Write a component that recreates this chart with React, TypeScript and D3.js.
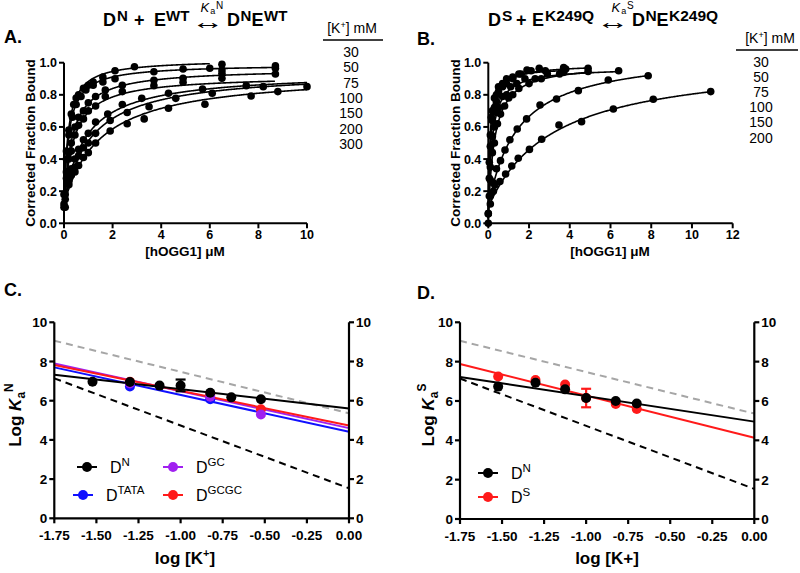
import React from "react";
import * as d3 from "d3";

const FONT = "'Liberation Sans', Arial, Helvetica, sans-serif";

// ---------------- Panel A : D^N + E^WT ----------------
const aKLabels = ["30", "50", "75", "100", "150", "200", "300"];
const aXTicks = [0, 2, 4, 6, 8, 10];
const fracTicks = [0, 0.2, 0.4, 0.6, 0.8, 1.0];

const aX30 = [0, 0.1, 0.2, 0.3, 0.4, 0.5, 0.6, 0.8, 1.0, 1.2, 1.6, 2.1, 2.9];
const aY30 = [0.12, 0.45, 0.58, 0.68, 0.74, 0.78, 0.8, 0.84, 0.86, 0.88, 0.91, 0.95, 0.975];
const aX50 = [0, 0.1, 0.2, 0.35, 0.5, 0.7, 0.9, 1.2, 1.6, 2.1, 3.7, 4.9, 6.0, 6.5, 8.7, 8.7];
const aY50 = [0.1, 0.4, 0.55, 0.66, 0.74, 0.79, 0.83, 0.86, 0.88, 0.9, 0.944, 0.961, 0.965, 0.99, 0.98, 0.965];
const aX75 = [0.1, 0.2, 0.3, 0.45, 0.6, 0.8, 1.0, 1.3, 1.7, 2.4, 3.7, 4.9, 6.5, 6.5, 8.7];
const aY75 = [0.32, 0.44, 0.5, 0.6, 0.66, 0.7, 0.75, 0.79, 0.83, 0.86, 0.89, 0.903, 0.955, 0.934, 0.93];
const aX100 = [0, 0.1, 0.2, 0.3, 0.45, 0.6, 0.8, 1.0, 1.3, 1.7, 2.4, 3.7, 4.9, 6.5];
const aY100 = [0.18, 0.28, 0.4, 0.45, 0.55, 0.61, 0.65, 0.7, 0.73, 0.79, 0.82, 0.857, 0.878, 0.903];
const aX150 = [0.05, 0.15, 0.3, 0.45, 0.6, 0.8, 1.0, 1.3, 1.8, 2.4, 3.2, 4.3, 5.7, 7.5, 10];
const aY150 = [0.18, 0.26, 0.34, 0.4, 0.46, 0.52, 0.56, 0.63, 0.68, 0.74, 0.778, 0.81, 0.836, 0.857, 0.851];
const aX200 = [0.05, 0.2, 0.3, 0.45, 0.6, 0.8, 1.0, 1.3, 1.9, 2.6, 3.5, 4.6, 6.1, 8.2];
const aY200 = [0.15, 0.26, 0.3, 0.35, 0.42, 0.47, 0.5, 0.56, 0.64, 0.69, 0.726, 0.778, 0.81, 0.851];
const aX300 = [0.05, 0.2, 0.3, 0.45, 0.6, 0.8, 1.0, 1.3, 1.9, 2.6, 3.3, 4.3, 5.8, 7.7, 8.8];
const aY300 = [0.1, 0.24, 0.3, 0.32, 0.36, 0.41, 0.44, 0.5, 0.575, 0.62, 0.65, 0.716, 0.741, 0.793, 0.82];

// hyperbolic fit parameters (30 ... 300 mM)
const aFitBase = [0.12, 0.12, 0.12, 0.12, 0.12, 0.12, 0.12];
const aFitMax = [0.9, 0.87, 0.845, 0.8, 0.823, 0.83, 0.82];
const aFitKd = [0.18, 0.2, 0.35, 0.4, 0.88, 1.12, 1.51];
const aFitEnd = [6.0, 8.68, 8.68, 8.68, 10, 10, 10];

// ---------------- Panel B : D^S + E^K249Q ----------------
const bKLabels = ["30", "50", "75", "100", "150", "200"];
const bXTicks = [0, 2, 4, 6, 8, 10, 12];

const bX30 = [0, 0.05, 0.1, 0.15, 0.2, 0.3, 0.4, 0.5, 0.7, 0.9, 1.2, 1.5, 1.9, 2.5, 3.8];
const bY30 = [0.06, 0.38, 0.55, 0.66, 0.7, 0.78, 0.8, 0.85, 0.87, 0.9, 0.91, 0.93, 0.955, 0.965, 0.96];
const bX50 = [0.05, 0.1, 0.15, 0.2, 0.3, 0.4, 0.5, 0.7, 0.9, 1.2, 1.6, 2.1, 2.8, 3.7, 4.9];
const bY50 = [0.28, 0.48, 0.55, 0.64, 0.72, 0.76, 0.82, 0.85, 0.87, 0.9, 0.93, 0.95, 0.95, 0.97, 0.965];
const bX75 = [0, 0.1, 0.2, 0.3, 0.4, 0.5, 0.7, 0.9, 1.1, 1.4, 1.8, 2.3, 2.9, 3.7, 6.4];
const bY75 = [0.0, 0.35, 0.54, 0.6, 0.69, 0.72, 0.79, 0.8, 0.85, 0.87, 0.9, 0.9, 0.93, 0.94, 0.95];
const bX100 = [0.05, 0.1, 0.2, 0.3, 0.45, 0.6, 0.8, 1.0, 1.2, 1.5, 2.0, 2.6, 3.5, 4.9];
const bY100 = [0.17, 0.27, 0.44, 0.5, 0.62, 0.68, 0.73, 0.78, 0.8, 0.84, 0.87, 0.9, 0.93, 0.945];
const bX150 = [0, 0.1, 0.25, 0.4, 0.6, 0.82, 1.06, 1.42, 1.88, 2.54, 3.35, 4.42, 5.89, 7.85];
const bY150 = [0.06, 0.17, 0.25, 0.34, 0.39, 0.456, 0.52, 0.587, 0.65, 0.737, 0.774, 0.826, 0.892, 0.919];
const bX200 = [0.1, 0.25, 0.33, 0.57, 0.85, 1.15, 1.47, 2.02, 2.62, 3.47, 4.58, 6.14, 8.1, 10.92];
const bY200 = [0.12, 0.2, 0.24, 0.26, 0.307, 0.357, 0.405, 0.46, 0.523, 0.612, 0.633, 0.712, 0.772, 0.82];

const bFitBase = [0.04, 0.03, 0.03, 0.03, 0.1, 0.1];
const bFitMax = [0.93, 0.96, 0.94, 0.966, 0.969, 0.93];
const bFitKd = [0.08, 0.12, 0.18, 0.3, 1.43, 3.2];
const bFitEnd = [3.8, 4.9, 6.4, 4.9, 7.85, 10.92];

// ---------------- Panels C & D : Log Ka vs log [K+] ----------------
const logXTicks = [-1.75, -1.5, -1.25, -1.0, -0.75, -0.5, -0.25, 0];
const logYTicks = [0, 2, 4, 6, 8, 10];

const cNX = [-1.523, -1.301, -1.125, -1.0, -0.824, -0.699, -0.523];
const cNY = [6.97, 6.95, 6.77, 6.78, 6.41, 6.17, 6.07];
const cNErr = [0, 0, 0, 0.3, 0, 0, 0];
const cTataX = [-1.301, -0.824];
const cTataY = [6.72, 6.07];
const cGcX = [-1.301, -0.824, -0.523];
const cGcY = [6.88, 6.2, 5.3];
const cGcgcX = [-1.301, -0.824, -0.523];
const cGcgcY = [6.97, 6.3, 5.56];
// straight-line fits: value at log[K+] = -1.75 and at 0
const cFitLeft = [7.33, 7.7, 7.9, 7.82];
const cFitRight = [5.6, 4.42, 4.6, 4.74];
const refFitLeft = [9.06, 7.14];   // grey dashed, black dashed
const refFitRight = [5.36, 1.53];

const dNX = [-1.523, -1.301, -1.125, -1.0, -0.824, -0.699];
const dNY = [6.73, 6.93, 6.59, 6.15, 6.0, 5.87];
const dSX = [-1.523, -1.301, -1.125, -1.0, -0.824, -0.699];
const dSY = [7.24, 7.07, 6.84, 6.15, 5.85, 5.59];
const dSErr = [0, 0, 0, 0.47, 0, 0];
const dFitLeft = [7.22, 7.88];
const dFitRight = [4.95, 4.13];

const BLUE = "#1010ff";
const RED = "#ff1a1a";
const PURPLE = "#a020f0";
const GREY = "#a6a6a6";

type Series = { x: number[]; y: number[] };
type Fit = { base: number; max: number; kd: number; end: number };

function BindingPanel(props: {
  left: number; right: number; top: number; bottom: number;
  xMax: number; xTicks: number[]; series: Series[]; fits: Fit[];
}) {
  const { left, right, top, bottom, xMax, xTicks, series, fits } = props;
  const x = d3.scaleLinear().domain([0, xMax]).range([left, right]);
  const y = d3.scaleLinear().domain([0, 1]).range([bottom, top]);
  const line = d3.line<[number, number]>().x((d) => x(d[0])).y((d) => y(d[1]));
  return (
    <g>
      {fits.map((f, i) => {
        const pts: [number, number][] = d3.range(0, 401).map((k) => {
          const xx = f.end * Math.pow(k / 400, 2);
          return [xx, f.base + (f.max * xx) / (f.kd + xx)];
        });
        return <path key={"f" + i} d={line(pts) || ""} fill="none" stroke="#000" strokeWidth={1.6} />;
      })}
      {series.map((s, i) =>
        s.x.map((xv, j) => (
          <circle key={"p" + i + "-" + j} cx={x(xv)} cy={y(s.y[j])} r={3.8} fill="#000" />
        ))
      )}
      <line x1={left} y1={bottom} x2={right} y2={bottom} stroke="#000" strokeWidth={2} />
      <line x1={left} y1={bottom} x2={left} y2={top} stroke="#000" strokeWidth={2} />
      {xTicks.map((t) => (
        <g key={"xt" + t}>
          <line x1={x(t)} x2={x(t)} y1={bottom} y2={bottom + 5} stroke="#000" strokeWidth={2} />
          <text x={x(t)} y={bottom + 16} textAnchor="middle" fontSize={12.5} fontWeight="bold">{t}</text>
        </g>
      ))}
      {fracTicks.map((t) => (
        <g key={"yt" + t}>
          <line x1={left - 5} x2={left} y1={y(t)} y2={y(t)} stroke="#000" strokeWidth={2} />
          <text x={left - 7} y={y(t) + 4.5} textAnchor="end" fontSize={12.5} fontWeight="bold">{t.toFixed(1)}</text>
        </g>
      ))}
    </g>
  );
}

type PtSeries = { x: number[]; y: number[]; err?: number[]; color: string };

function LogPanel(props: {
  left: number; right: number; top: number; bottom: number;
  lines: { l: number; r: number; color: string; dash?: string }[];
  points: PtSeries[];
}) {
  const { left, right, top, bottom, lines, points } = props;
  const x = d3.scaleLinear().domain([-1.75, 0]).range([left, right]);
  const y = d3.scaleLinear().domain([0, 10]).range([bottom, top]);
  return (
    <g>
      {lines.map((ln, i) => (
        <line key={"l" + i} x1={x(-1.75)} y1={y(ln.l)} x2={x(0)} y2={y(ln.r)}
          stroke={ln.color} strokeWidth={2} strokeDasharray={ln.dash} />
      ))}
      {points.map((s, i) => (
        <g key={"s" + i}>
          {s.x.map((xv, j) => {
            const e = s.err ? s.err[j] : 0;
            return e > 0 ? (
              <g key={"e" + j}>
                <line x1={x(xv)} x2={x(xv)} y1={y(s.y[j] - e)} y2={y(s.y[j] + e)} stroke={s.color} strokeWidth={2.2} />
                <line x1={x(xv) - 5} x2={x(xv) + 5} y1={y(s.y[j] - e)} y2={y(s.y[j] - e)} stroke={s.color} strokeWidth={2.2} />
                <line x1={x(xv) - 5} x2={x(xv) + 5} y1={y(s.y[j] + e)} y2={y(s.y[j] + e)} stroke={s.color} strokeWidth={2.2} />
              </g>
            ) : null;
          })}
          {s.x.map((xv, j) => (
            <circle key={"c" + j} cx={x(xv)} cy={y(s.y[j])} r={5} fill={s.color} />
          ))}
        </g>
      ))}
      <line x1={left} y1={bottom} x2={right} y2={bottom} stroke="#000" strokeWidth={2.2} />
      <line x1={left} y1={bottom + 1} x2={left} y2={top} stroke="#000" strokeWidth={2.2} />
      <line x1={right} y1={bottom + 1} x2={right} y2={top} stroke="#000" strokeWidth={2.2} />
      {logXTicks.map((t) => (
        <g key={"xt" + t}>
          <line x1={x(t)} x2={x(t)} y1={bottom} y2={bottom + 5} stroke="#000" strokeWidth={2.2} />
          <text x={x(t)} y={bottom + 22} textAnchor="middle" fontSize={13.5} fontWeight="bold">{t.toFixed(2)}</text>
        </g>
      ))}
      {logYTicks.map((t) => (
        <g key={"yt" + t}>
          <line x1={left - 5} x2={left} y1={y(t)} y2={y(t)} stroke="#000" strokeWidth={2.2} />
          <text x={left - 7} y={y(t) + 5} textAnchor="end" fontSize={13.5} fontWeight="bold">{t}</text>
          <line x1={right} x2={right + 5} y1={y(t)} y2={y(t)} stroke="#000" strokeWidth={2.2} />
          <text x={right + 7} y={y(t) + 5} textAnchor="start" fontSize={13.5} fontWeight="bold">{t}</text>
        </g>
      ))}
    </g>
  );
}

function LegendItem(props: { x: number; y: number; color: string; label: string; sup: string }) {
  const { x, y, color, label, sup } = props;
  return (
    <g>
      <line x1={x} x2={x + 20} y1={y} y2={y} stroke={color} strokeWidth={2} />
      <circle cx={x + 10} cy={y} r={5} fill={color} />
      <text x={x + 33} y={y + 6} fontSize={16}>
        {label}
        <tspan dy={-7} fontSize={11.5}>{sup}</tspan>
      </text>
    </g>
  );
}

// Reaction title: left part, arrow with equilibrium constant, right part
function Title(props: {
  parts: { t: string; x: number; sup?: boolean }[];
  arrowX: number; kX: number; kSup: string; supSize: number;
}) {
  const { parts, arrowX, kX, kSup, supSize } = props;
  return (
    <g>
      <text fontSize={18} fontWeight="bold">
        {parts.map((p, i) => (
          <tspan key={i} x={p.x} y={p.sup ? 20.5 : 26} fontSize={p.sup ? supSize : 18}>{p.t}</tspan>
        ))}
      </text>
      <text transform={`translate(${arrowX},28.5) scale(1.55,1)`} textAnchor="middle" fontSize={21} fontWeight="bold">↔</text>
      <text fontSize={13}>
        <tspan x={kX} y={12} fontStyle="italic">K</tspan>
        <tspan x={kX + 9.8} y={14} fontSize={9}>a</tspan>
        <tspan x={kX + 15.5} y={8.5} fontSize={10}>{kSup}</tspan>
      </text>
    </g>
  );
}

export default function App() {
  const aSeries: Series[] = [
    { x: aX30, y: aY30 }, { x: aX50, y: aY50 }, { x: aX75, y: aY75 }, { x: aX100, y: aY100 },
    { x: aX150, y: aY150 }, { x: aX200, y: aY200 }, { x: aX300, y: aY300 },
  ];
  const aFits: Fit[] = aFitKd.map((kd, i) => ({ base: aFitBase[i], max: aFitMax[i], kd, end: aFitEnd[i] }));
  const bSeries: Series[] = [
    { x: bX30, y: bY30 }, { x: bX50, y: bY50 }, { x: bX75, y: bY75 },
    { x: bX100, y: bY100 }, { x: bX150, y: bY150 }, { x: bX200, y: bY200 },
  ];
  const bFits: Fit[] = bFitKd.map((kd, i) => ({ base: bFitBase[i], max: bFitMax[i], kd, end: bFitEnd[i] }));

  const cLines = [
    { l: refFitLeft[0], r: refFitRight[0], color: GREY, dash: "7,5" },
    { l: refFitLeft[1], r: refFitRight[1], color: "#000", dash: "7,5" },
    { l: cFitLeft[1], r: cFitRight[1], color: BLUE },
    { l: cFitLeft[2], r: cFitRight[2], color: PURPLE },
    { l: cFitLeft[3], r: cFitRight[3], color: RED },
    { l: cFitLeft[0], r: cFitRight[0], color: "#000" },
  ];
  const cPoints: PtSeries[] = [
    { x: cTataX, y: cTataY, color: BLUE },
    { x: cGcgcX, y: cGcgcY, color: RED },
    { x: cGcX, y: cGcY, color: PURPLE },
    { x: cNX, y: cNY, err: cNErr, color: "#000" },
  ];
  const dLines = [
    { l: refFitLeft[0], r: refFitRight[0], color: GREY, dash: "7,5" },
    { l: refFitLeft[1], r: refFitRight[1], color: "#000", dash: "7,5" },
    { l: dFitLeft[1], r: dFitRight[1], color: RED },
    { l: dFitLeft[0], r: dFitRight[0], color: "#000" },
  ];
  const dPoints: PtSeries[] = [
    { x: dSX, y: dSY, err: dSErr, color: RED },
    { x: dNX, y: dNY, color: "#000" },
  ];

  return (
    <svg width={800} height={573} viewBox="0 0 800 573"
      style={{ position: "absolute", left: 0, top: 0, background: "#fff" }}
      fontFamily={FONT}>
      <rect width={800} height={573} fill="#fff" />

      {/* ---------- Panel A ---------- */}
      <text x={4} y={43} fontSize={18} fontWeight="bold">A.</text>
      <Title
        parts={[
          { t: "D", x: 103 }, { t: "N", x: 117, sup: true }, { t: "+", x: 134 }, { t: "E", x: 154 },
          { t: "WT", x: 166, sup: true }, { t: "D", x: 227 }, { t: "N", x: 240.5, sup: true },
          { t: "E", x: 251.5 }, { t: "WT", x: 264, sup: true },
        ]}
        arrowX={208} kX={200.5} kSup="N" supSize={15}
      />
      <BindingPanel left={64} right={307} top={62.7} bottom={223.3} xMax={10} xTicks={aXTicks} series={aSeries} fits={aFits} />
      <text transform="translate(35,143) rotate(-90)" textAnchor="middle" fontSize={13.5} fontWeight="bold">Corrected Fraction Bound</text>
      <text x={185} y={256} textAnchor="middle" fontSize={13.5} fontWeight="bold">[hOGG1] μM</text>
      <text x={352} y={33} textAnchor="middle" fontSize={14}>
        [K<tspan dy={-5} fontSize={9}>+</tspan><tspan dy={5}>] mM</tspan>
      </text>
      <line x1={323} x2={383} y1={40} y2={40} stroke="#000" strokeWidth={1.3} />
      {aKLabels.map((k, i) => (
        <text key={"ak" + k} x={351} y={57 + i * 15.3} textAnchor="middle" fontSize={14}>{k}</text>
      ))}

      {/* ---------- Panel B ---------- */}
      <text x={417} y={45} fontSize={18} fontWeight="bold">B.</text>
      <Title
        parts={[
          { t: "D", x: 488 }, { t: "S", x: 502, sup: true }, { t: "+", x: 516 }, { t: "E", x: 532 },
          { t: "K249Q", x: 545, sup: true }, { t: "D", x: 632 }, { t: "N", x: 645.5, sup: true },
          { t: "E", x: 656.5 }, { t: "K249Q", x: 669, sup: true },
        ]}
        arrowX={613} kX={611.5} kSup="S" supSize={15.5}
      />
      <BindingPanel left={488.3} right={732.7} top={62.7} bottom={223.3} xMax={12} xTicks={bXTicks} series={bSeries} fits={bFits} />
      <text transform="translate(460,143) rotate(-90)" textAnchor="middle" fontSize={13.5} fontWeight="bold">Corrected Fraction Bound</text>
      <text x={610} y={256} textAnchor="middle" fontSize={13.5} fontWeight="bold">[hOGG1] μM</text>
      <text x={770} y={43} textAnchor="middle" fontSize={14}>
        [K<tspan dy={-5} fontSize={9}>+</tspan><tspan dy={5}>] mM</tspan>
      </text>
      <line x1={736} x2={798} y1={50} y2={50} stroke="#000" strokeWidth={1.3} />
      {bKLabels.map((k, i) => (
        <text key={"bk" + k} x={761} y={67 + i * 15.1} textAnchor="middle" fontSize={14}>{k}</text>
      ))}

      {/* ---------- Panel C ---------- */}
      <text x={4} y={296} fontSize={18} fontWeight="bold">C.</text>
      <LogPanel left={54.3} right={349} top={322.3} bottom={518.3} lines={cLines} points={cPoints} />
      <text transform="translate(21,415) rotate(-90)" textAnchor="middle" fontSize={17} fontWeight="bold">
        Log <tspan fontStyle="italic">K</tspan><tspan dy={4} fontSize={12}>a</tspan><tspan dy={-12} fontSize={12}>N</tspan>
      </text>
      <text x={185} y={564} textAnchor="middle" fontSize={17} fontWeight="bold">
        log [K<tspan dy={-7} fontSize={11}>+</tspan><tspan dy={7}>]</tspan>
      </text>
      <LegendItem x={77} y={467} color="#000" label="D" sup="N" />
      <LegendItem x={163} y={467} color={PURPLE} label="D" sup="GC" />
      <LegendItem x={73} y={495} color={BLUE} label="D" sup="TATA" />
      <LegendItem x={163} y={495} color={RED} label="D" sup="GCGC" />

      {/* ---------- Panel D ---------- */}
      <text x={417} y={299} fontSize={18} fontWeight="bold">D.</text>
      <LogPanel left={460} right={754.3} top={322.3} bottom={519} lines={dLines} points={dPoints} />
      <text transform="translate(434,415) rotate(-90)" textAnchor="middle" fontSize={17} fontWeight="bold">
        Log <tspan fontStyle="italic">K</tspan><tspan dy={4} fontSize={12}>a</tspan><tspan dy={-12} fontSize={12}>S</tspan>
      </text>
      <text x={607} y={564} textAnchor="middle" fontSize={17} fontWeight="bold">log [K+]</text>
      <LegendItem x={478} y={473} color="#000" label="D" sup="N" />
      <LegendItem x={478} y={497} color={RED} label="D" sup="S" />
    </svg>
  );
}
